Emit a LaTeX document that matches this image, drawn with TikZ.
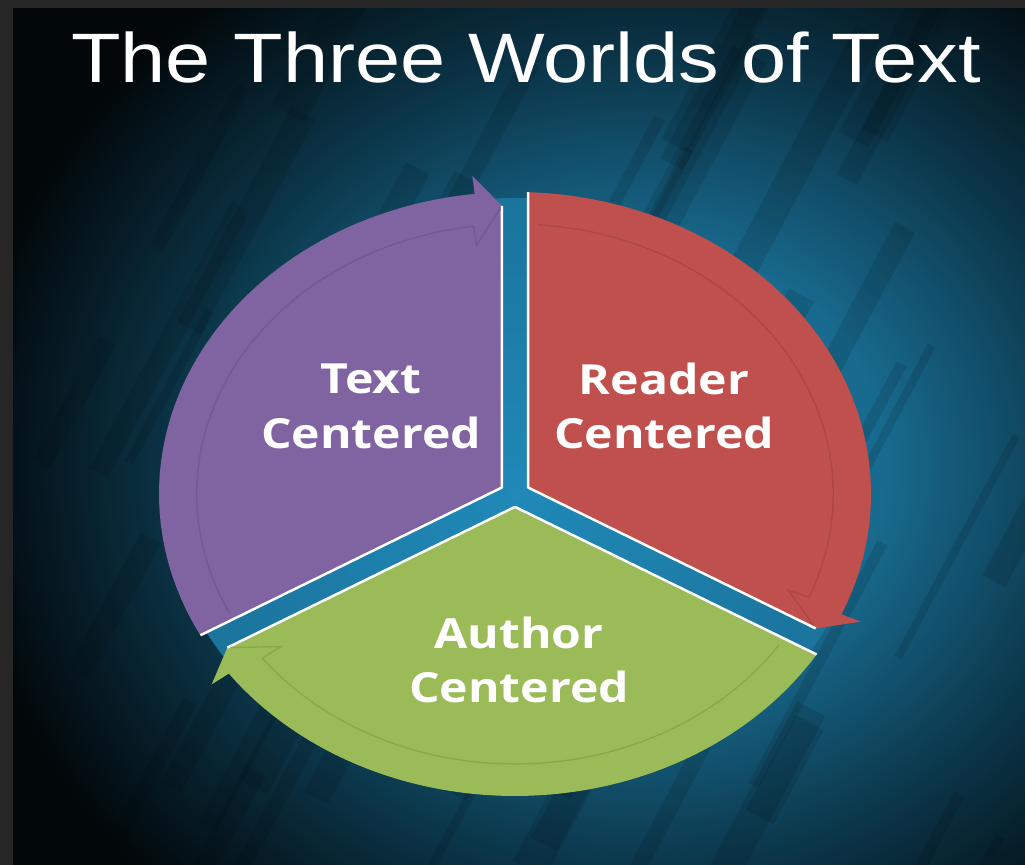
\documentclass[tikz,border=0pt]{standalone}
\usepackage{fontspec}
\usepackage{graphicx}
\usepackage{tikz}
\usetikzlibrary{calc}
\setmainfont{Liberation Sans}
\newfontfamily\labelfont{Open Sans}
\definecolor{frame}{HTML}{262626}
\definecolor{night}{HTML}{02070A}
\definecolor{glowA}{HTML}{186A8E}
\definecolor{glowB}{HTML}{0B3548}
\definecolor{gapblue}{HTML}{2089B8}
\definecolor{gapdeep}{HTML}{155F80}
\definecolor{purple}{HTML}{8064A2}
\definecolor{red}{HTML}{C0504D}
\definecolor{green}{HTML}{9BBB59}
\pgfdeclareradialshading{bgglow}{\pgfpoint{0bp}{0bp}}{color(0bp)=(glowA); color(9bp)=(glowA); color(17bp)=(glowB); color(25bp)=(night); color(50bp)=(night)}
\pgfdeclareradialshading{gapglow}{\pgfpoint{0bp}{0bp}}{color(0bp)=(gapblue); color(50bp)=(gapdeep)}
\newcommand{\Wide}[1]{\scalebox{1.16}[1]{#1}}
\newcommand{\Segment}[3]{%
  \fill[#1] ({(#2+#3)/2}:0.0427) -- ({#2-2.1}:1)
    arc[start angle={#2-2.1}, end angle={#3+6.5}, radius=1]
    -- ({#3+6.5}:1.06) -- ({#3+2.2}:0.955) -- cycle;
  \draw[#1!70!black, opacity=.35, line width=.4pt] ({#2-4}:0.894)
    arc[start angle={#2-4}, end angle={#3+7.5}, radius=0.894]
    -- ({#3+7.5}:0.83) -- ({#3+2.2}:0.955);
  \draw[white, line width=.7pt, line join=round] ({#2-2.1}:1) -- ({(#2+#3)/2}:0.0427) -- ({#3+2.2}:0.955);
}

\begin{document}
\begin{tikzpicture}[x=0.01cm, y=0.01cm,
    heading/.style={text=white, font=\fontsize{19.9}{24}\selectfont, anchor=base},
    worldlabel/.style={text=white, align=center, font=\labelfont\bfseries\fontsize{11.8}{15.6}\selectfont},
    streak/.style={night, line width=#1, opacity=.12}]
  \useasboundingbox (0,0) rectangle (1025,865);
  \fill[night] (0,0) rectangle (1025,865);
  \shade[shading=bgglow] (640,400) ellipse (680 and 600);
  \pgfmathsetseed{11}
  \foreach \i in {1,...,60}{
    \pgfmathsetmacro{\sx}{rnd*1025}
    \pgfmathsetmacro{\sy}{rnd*865-100}
    \pgfmathsetmacro{\sl}{100+rnd*220}
    \pgfmathsetmacro{\sw}{2+rnd*9}
    \draw[streak=\sw pt] (\sx,\sy) -- ++(62:\sl);
  }
  \fill[frame] (0,0) rectangle (13,865);
  \fill[frame] (0,857) rectangle (1025,865);
  \begin{scope}[shift={(515,371)}, xscale=356, yscale=302]
    \shade[shading=gapglow] (0,0) circle (0.98);
    \Segment{purple}{210}{90}
    \Segment{red}{90}{-30}
    \Segment{green}{-30}{-150}
  \end{scope}
  \node[heading] (title) at (526,782) {\Wide{The Three Worlds of Text}};
  \node[worldlabel] (textC) at (371,459) {\Wide{Text}\\\Wide{Centered}};
  \node[worldlabel] (readerC) at (664,459) {\Wide{Reader}\\\Wide{Centered}};
  \node[worldlabel] (authorC) at (519,205) {\Wide{Author}\\\Wide{Centered}};
\end{tikzpicture}
\end{document}
